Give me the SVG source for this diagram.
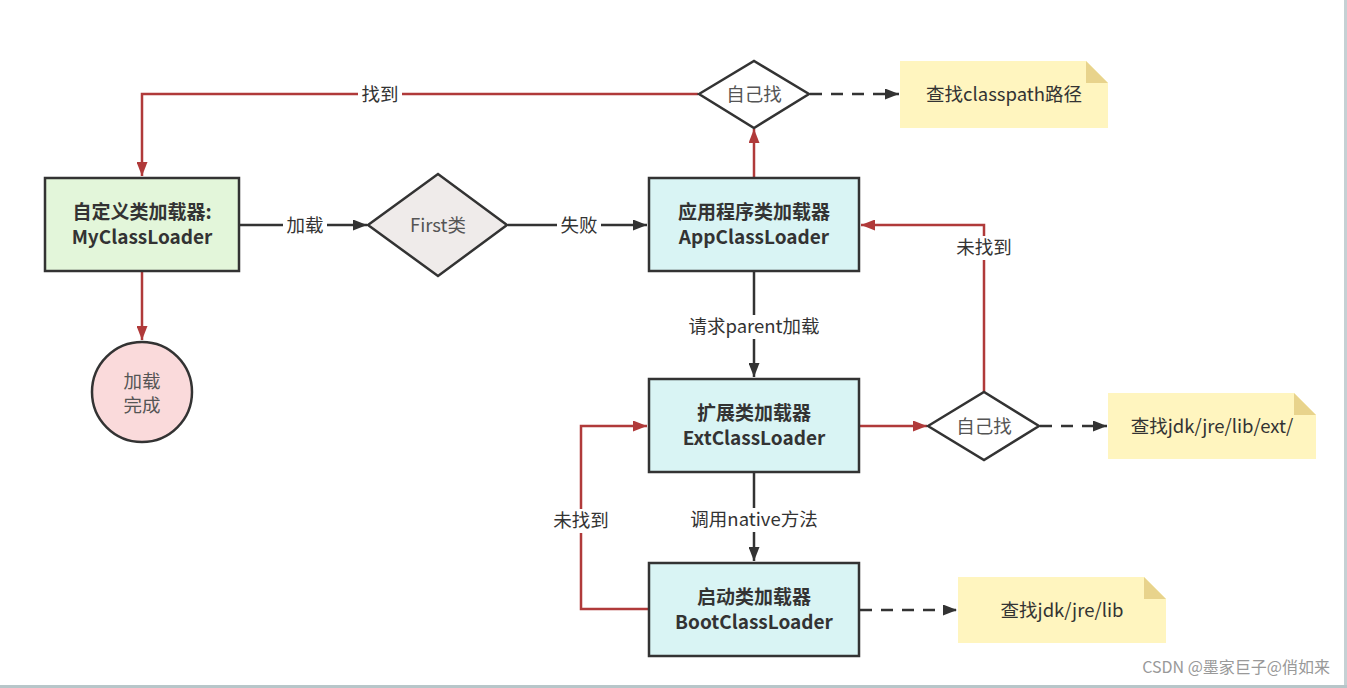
<svg xmlns="http://www.w3.org/2000/svg" width="1347" height="688" viewBox="0 0 1347 688">
<defs>
<marker id="ab" viewBox="0 0 14 11" refX="14" refY="5.5" markerWidth="14" markerHeight="11" markerUnits="userSpaceOnUse" orient="auto"><path d="M0,0 L14,5.5 L0,11 Z" fill="#333333"/></marker>
<marker id="ar" viewBox="0 0 14 11" refX="14" refY="5.5" markerWidth="14" markerHeight="11" markerUnits="userSpaceOnUse" orient="auto"><path d="M0,0 L14,5.5 L0,11 Z" fill="#b03a3a"/></marker>
</defs>
<style>
text{font-family:"Noto Sans CJK SC","Noto Sans",sans-serif;font-size:18.5px;fill:#333333;text-anchor:middle}
.b{font-weight:bold;font-size:19px}
.box{stroke:#333333;stroke-width:2.5}
.blk{fill:none;stroke:#333333;stroke-width:2.5}
.red{fill:none;stroke:#b03a3a;stroke-width:2.5}
.dash{fill:none;stroke:#333333;stroke-width:2.5;stroke-dasharray:12 9}
.note{fill:#fff5bf}
.fold{fill:#e8d38c}
.lbl{fill:#ffffff}
.g{fill:#555555}
</style>
<rect x="0" y="0" width="1347" height="688" fill="#ffffff"/>
<rect x="1344" y="0" width="3" height="688" fill="#c5d1d4"/>
<rect x="0" y="685" width="1347" height="3" fill="#b7c6c9"/>
<g id="connectors">
<polyline class="red" points="698,94 142,94 142,176" marker-end="url(#ar)"/>
<rect class="lbl" x="358" y="83" width="44" height="24"/>
<text x="380" y="101">找到</text>
<line class="red" x1="142" y1="272" x2="142" y2="340" marker-end="url(#ar)"/>
<line class="blk" x1="240" y1="225" x2="367" y2="225" marker-end="url(#ab)"/>
<rect class="lbl" x="283" y="213" width="44" height="24"/>
<text x="305" y="232">加载</text>
<line class="blk" x1="508" y1="225" x2="647" y2="225" marker-end="url(#ab)"/>
<rect class="lbl" x="557" y="213" width="44" height="24"/>
<text x="579" y="232">失败</text>
<line class="red" x1="754" y1="177" x2="754" y2="129" marker-end="url(#ar)"/>
<line class="dash" x1="810" y1="94" x2="899" y2="94" marker-end="url(#ab)"/>
<polyline class="red" points="984,392 984,225 861,225" marker-end="url(#ar)"/>
<rect class="lbl" x="950" y="236" width="68" height="24"/>
<text x="984" y="254">未找到</text>
<line class="blk" x1="754" y1="272" x2="754" y2="377" marker-end="url(#ab)"/>
<rect class="lbl" x="686" y="315" width="136" height="24"/>
<text x="754" y="333">请求parent加载</text>
<line class="red" x1="860" y1="426" x2="927" y2="426" marker-end="url(#ar)"/>
<line class="dash" x1="1040" y1="426" x2="1107" y2="426" marker-end="url(#ab)"/>
<line class="blk" x1="754" y1="473" x2="754" y2="561" marker-end="url(#ab)"/>
<rect class="lbl" x="688" y="508" width="132" height="24"/>
<text x="754" y="526">调用native方法</text>
<polyline class="red" points="648,609 581,609 581,426 647,426" marker-end="url(#ar)"/>
<rect class="lbl" x="547" y="509" width="68" height="24"/>
<text x="581" y="527">未找到</text>
<line class="dash" x1="860" y1="610" x2="957" y2="610" marker-end="url(#ab)"/>
</g>
<g id="myclassloader">
<rect class="box" x="45" y="178" width="194" height="93" fill="#e3f6da"/>
<text class="b" x="142" y="219">自定义类加载器:</text>
<text class="b" x="142" y="244">MyClassLoader</text>
</g>
<g id="done">
<circle class="box" cx="142" cy="392" r="50" fill="#fadadb"/>
<text class="g" x="142" y="388">加载</text>
<text class="g" x="142" y="412">完成</text>
</g>
<g id="first">
<polygon class="box" points="368,225 438,174 507,225 438,276" fill="#efebea"/>
<text class="g" x="438" y="232">First类</text>
</g>
<g id="appclassloader">
<rect class="box" x="649" y="178" width="210" height="93" fill="#d9f4f4"/>
<text class="b" x="754" y="219">应用程序类加载器</text>
<text class="b" x="754" y="244">AppClassLoader</text>
</g>
<g id="selfapp">
<polygon class="box" points="699,94 754,61 809,94 754,128" fill="#ffffff"/>
<text class="g" x="754" y="101">自己找</text>
</g>
<g id="note-classpath">
<path class="note" d="M900,61 H1086 L1108,83 V128 H900 Z"/>
<path class="fold" d="M1086,61 L1108,83 H1086 Z"/>
<text x="1004" y="101">查找classpath路径</text>
</g>
<g id="extclassloader">
<rect class="box" x="649" y="379" width="210" height="93" fill="#d9f4f4"/>
<text class="b" x="754" y="420">扩展类加载器</text>
<text class="b" x="754" y="445">ExtClassLoader</text>
</g>
<g id="selfext">
<polygon class="box" points="928,426 984,392 1039,426 984,460" fill="#ffffff"/>
<text class="g" x="984" y="433">自己找</text>
</g>
<g id="note-ext">
<path class="note" d="M1108,393 H1294 L1316,415 V459 H1108 Z"/>
<path class="fold" d="M1294,393 L1316,415 H1294 Z"/>
<text x="1212" y="433">查找jdk/jre/lib/ext/</text>
</g>
<g id="bootclassloader">
<rect class="box" x="649" y="563" width="210" height="93" fill="#d9f4f4"/>
<text class="b" x="754" y="604">启动类加载器</text>
<text class="b" x="754" y="629">BootClassLoader</text>
</g>
<g id="note-boot">
<path class="note" d="M958,577 H1144 L1166,599 V643 H958 Z"/>
<path class="fold" d="M1144,577 L1166,599 H1144 Z"/>
<text x="1062" y="617">查找jdk/jre/lib</text>
</g>
<text x="1330" y="673" style="text-anchor:end;fill:#999999;font-size:16px">CSDN @墨家巨子@俏如来</text>
</svg>
